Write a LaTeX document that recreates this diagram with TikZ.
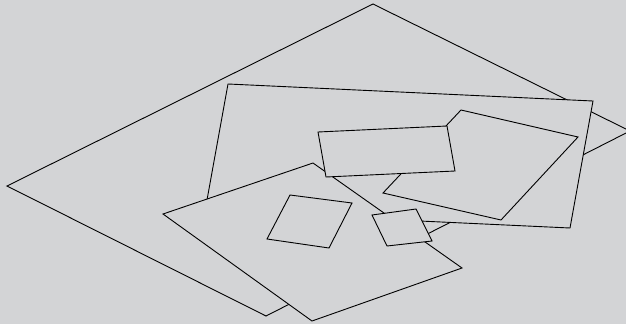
\documentclass[tikz,border=0pt]{standalone}
\definecolor{bggray}{RGB}{211,212,214}
\begin{document}
\begin{tikzpicture}[
    x=1pt, y=-1pt,
    sheet/.style={draw=black, fill=bggray, line width=0.9pt, line join=miter}
]
    % 背景
    \fill[bggray] (0,0) rectangle (626,324);
    \clip (0,0) rectangle (626,324);

    % 大菱形
    \filldraw[sheet] (373,4) -- (630,131) -- (266,316) -- (7,186) -- cycle;

    % 大矩形
    \filldraw[sheet] (228,84) -- (593,101) -- (570,228) -- (205,211) -- cycle;

    % 右侧四边形
    \filldraw[sheet] (461,110) -- (578,137) -- (501,220) -- (383,193) -- cycle;

    % 下方方块
    \filldraw[sheet] (313,163) -- (462,268) -- (312,321) -- (163,214) -- cycle;

    % 小矩形
    \filldraw[sheet] (318,132) -- (447,126) -- (455,171) -- (326,177) -- cycle;

    % 两个小方块
    \filldraw[sheet] (290,195) -- (352,203) -- (329,248) -- (267,239) -- cycle;
    \filldraw[sheet] (372,215) -- (416,209) -- (432,241) -- (387,246) -- cycle;
\end{tikzpicture}
\end{document}
